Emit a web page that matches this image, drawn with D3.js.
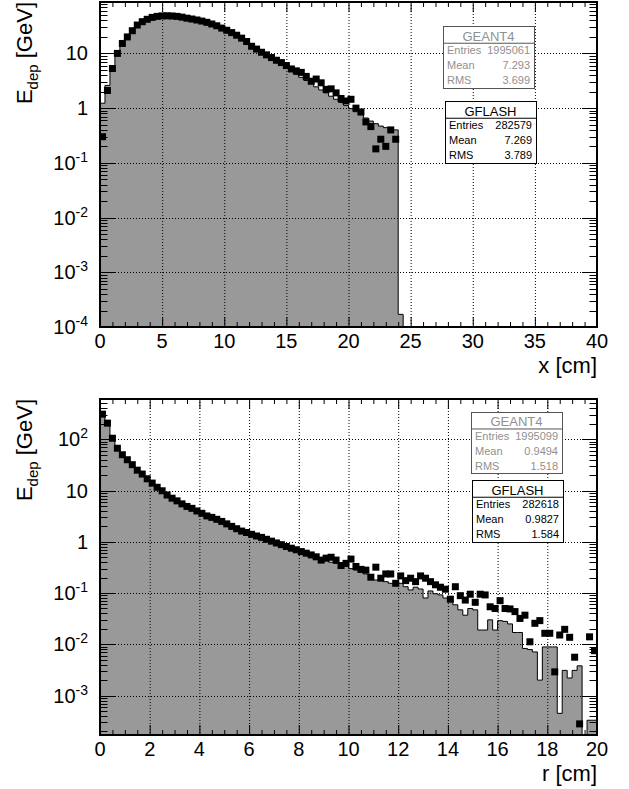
<!DOCTYPE html>
<html>
<head>
<meta charset="utf-8">
<script src="https://cdn.jsdelivr.net/npm/d3@7"></script>
<style>
  body { margin: 0; background: #fff; }
  svg { display: block; font-family: "Liberation Sans", Arial, sans-serif; }
</style>
</head>
<body>
<svg id="chart" width="629" height="789"></svg>
<script>
// longitudinal profile: 0.4 cm bins from 0 to 40 cm
const xBinWidth = 0.4;
const xGeant4 = [
  1.23, 2.6, 5.7, 9.8, 14.8, 19.5, 25, 31.5, 36.5, 40.5,
  44, 46, 47, 47.2, 46.8, 46, 44.8, 43.2, 41.5, 39.7,
  37.8, 35.8, 33.6, 31.2, 28.5, 26, 23.5, 21, 18.7, 16.3,
  14, 12.2, 10.7, 9.3, 8.1, 7.1, 6.2, 5.4, 4.7, 4.15,
  3.65, 3.2, 2.8, 2.45, 2.15, 1.9, 1.65, 1.45, 1.27, 1.12,
  0.98, 0.86, 0.76, 0.66, 0.58, 0.52, 0.47, 0.44, 0.42, 0.4,
  0.00017
];
const xGflash = [
  0.30, 2.1, 5.3, 10, 15.2, 20, 26, 33, 38, 42,
  45.5, 47.5, 48.5, 48.7, 48.3, 47.5, 46, 44, 42.5, 40.8,
  39, 37, 34.5, 32, 29, 26.5, 24, 21.5, 19, 16.5,
  13.5, 12, 10.5, 9.4, 8.4, 7.5, 6.8, 6.0, 5.2, 4.8,
  4.5, 3.8, 3.1, 3.4, 2.9, 2.2, 2.25, 1.9, 1.5, 1.35,
  1.45, 1.0, 0.85, 0.56, 0.46, 0.18, 0.27, 0.2, 0.4, 0.27
];
const xTicks = [0, 5, 10, 15, 20, 25, 30, 35, 40];
const xDecades = [1e-4, 1e-3, 1e-2, 1e-1, 1, 10];
const xStatsGeant4 = ["1995061", "7.293", "3.699"];
const xStatsGflash = ["282579", "7.269", "3.789"];

// radial profile: 0.2 cm bins from 0 to 20 cm
const rBinWidth = 0.2;
const rGeant4 = [
  295, 198, 100, 64, 48, 38, 30.5, 24, 20, 16.3,
  13.4, 11.1, 9.5, 7.9, 6.8, 6.0, 5.3, 4.7, 4.3, 3.85,
  3.45, 3.1, 2.85, 2.62, 2.4, 2.15, 1.92, 1.72, 1.55, 1.45,
  1.33, 1.23, 1.15, 1.06, 0.98, 0.91, 0.84, 0.78, 0.72, 0.68,
  0.62, 0.58, 0.53, 0.50, 0.46, 0.43, 0.40, 0.38, 0.345, 0.33,
  0.30, 0.28, 0.26, 0.236, 0.195, 0.18, 0.18, 0.167, 0.155, 0.145,
  0.155, 0.133, 0.115, 0.13, 0.12, 0.08, 0.11, 0.097, 0.092, 0.08,
  0.073, 0.059, 0.047, 0.037, 0.05, 0.047, 0.019, 0.019, 0.030, 0.019,
  0.029, 0.028, 0.025, 0.017, 0.017, 0.0083, 0.0079, 0.0071, 0.0020, 0.0089,
  0.0089, 0.0089, 0.00045, 0.0031, 0.0022, 0.0031, 0.0038, 0, 0.00033, 0.00033
];
const rGflash = [
  310, 207, 105, 67, 50, 40, 32, 25, 21, 17,
  14, 11.6, 9.9, 8.2, 7.1, 6.3, 5.5, 4.9, 4.5, 4.0,
  3.6, 3.2, 3.0, 2.75, 2.5, 2.24, 2.0, 1.8, 1.62, 1.52,
  1.4, 1.3, 1.22, 1.12, 1.03, 0.95, 0.88, 0.81, 0.75, 0.70,
  0.645, 0.60, 0.555, 0.51, 0.44, 0.48, 0.50, 0.44, 0.345, 0.38,
  0.46, 0.33, 0.29, 0.28, 0.204, 0.32, 0.195, 0.236, 0.236, 0.155,
  0.216, 0.175, 0.195, 0.167, 0.216, 0.195, 0.167, 0.145, 0.13, 0.119,
  0.076, 0.133, 0.089, 0.073, 0.095, 0.066, 0.095, 0.092, 0.054, 0.050,
  0.071, 0.050, 0.049, 0.0435, 0.032, 0.037, 0.0112, 0.0257, 0.029, 0.0164,
  0.0164, 0.0029, 0.0152, 0.0196, 0.0137, 0.0056, 0.00028, null, 0.014, 0.0075
];
const rTicks = [0, 2, 4, 6, 8, 10, 12, 14, 16, 18, 20];
const rDecades = [1e-3, 1e-2, 1e-1, 1, 10, 100];
const rStatsGeant4 = ["1995099", "0.9494", "1.518"];
const rStatsGflash = ["282618", "0.9827", "1.584"];

const statLabels = ["Entries", "Mean", "RMS"];

const svg = d3.select("#chart");

function decadeLabel(sel, v) {
    const e = Math.round(Math.log10(v));
    if (e === 0) { sel.text("1"); return; }
    if (e === 1) { sel.text("10"); return; }
    sel.append("tspan").text("10");
    sel.append("tspan").attr("dy", -8).attr("font-size", 14).text(e);
}

function drawPanel(p) {
    const g = svg.append("g");
    const x = d3.scaleLinear().domain(p.xDomain).range([p.left, p.right]);
    const y = d3.scaleLog().domain(p.yDomain).range([p.bottom, p.top]).clamp(true);
    const clipId = "clip-" + p.name;

    g.append("clipPath").attr("id", clipId)
        .append("rect")
        .attr("x", p.left).attr("y", p.top)
        .attr("width", p.right - p.left).attr("height", p.bottom - p.top);

    const plot = g.append("g").attr("clip-path", `url(#${clipId})`);

    // filled reference histogram (GEANT4)
    const steps = p.ref.map((v, i) => ({ x: i * p.binWidth, v: v }));
    steps.push({ x: p.ref.length * p.binWidth, v: p.ref[p.ref.length - 1] });
    const yv = d => y(Math.max(d.v || 0, p.yDomain[0] * 0.5));

    plot.append("path")
        .datum(steps)
        .attr("fill", "#999999")
        .attr("d", d3.area().curve(d3.curveStepAfter)
            .x(d => x(d.x)).y0(p.bottom).y1(yv));

    const outline = [{ x: 0, v: 0 }].concat(steps).concat([{ x: p.ref.length * p.binWidth, v: 0 }]);
    plot.append("path")
        .datum(outline)
        .attr("fill", "none")
        .attr("stroke", "#000")
        .attr("stroke-width", 1)
        .attr("d", d3.line().curve(d3.curveStepAfter).x(d => x(d.x)).y(yv));

    // grid
    const grid = g.append("g")
        .attr("stroke", "#000")
        .attr("stroke-width", 1)
        .attr("stroke-dasharray", "1,2");
    p.xTicks.slice(1, -1).forEach(t => {
        grid.append("line")
            .attr("x1", x(t) + 0.5).attr("x2", x(t) + 0.5)
            .attr("y1", p.top).attr("y2", p.bottom);
    });
    p.decades.forEach(t => {
        if (y(t) <= p.top + 1 || y(t) >= p.bottom - 1) return;
        grid.append("line")
            .attr("x1", p.left).attr("x2", p.right)
            .attr("y1", Math.round(y(t)) + 0.5).attr("y2", Math.round(y(t)) + 0.5);
    });

    // GFLASH markers
    plot.selectAll("rect.mk")
        .data(p.test.map((v, i) => ({ c: (i + 0.5) * p.binWidth, v: v }))
            .filter(d => d.v != null && d.v > 0))
        .enter().append("rect")
        .attr("class", "mk")
        .attr("x", d => x(d.c) - 3.5)
        .attr("y", d => y(d.v) - 3.5)
        .attr("width", 7).attr("height", 7)
        .attr("fill", "#000");

    // ticks on all four sides, pointing inward
    const ticks = g.append("g").attr("stroke", "#000").attr("stroke-width", 1);
    const minorX = d3.range(p.xDomain[0], p.xDomain[1] + 1e-9, p.xMinor);
    minorX.forEach(t => {
        const major = p.xTicks.some(m => Math.abs(m - t) < 1e-6);
        const len = major ? 10 : 5;
        const px = x(t) + 0.5;
        ticks.append("line").attr("x1", px).attr("x2", px).attr("y1", p.bottom).attr("y2", p.bottom - len);
        ticks.append("line").attr("x1", px).attr("x2", px).attr("y1", p.top).attr("y2", p.top + len);
    });
    const lo = Math.floor(Math.log10(p.yDomain[0]));
    const hi = Math.ceil(Math.log10(p.yDomain[1]));
    for (let e = lo; e <= hi; e++) {
        for (let k = 1; k <= 9; k++) {
            const v = k * Math.pow(10, e);
            if (v < p.yDomain[0] || v > p.yDomain[1]) continue;
            const len = k === 1 ? 15 : 7.5;
            const py = Math.round(y(v)) + 0.5;
            ticks.append("line").attr("x1", p.left).attr("x2", p.left + len).attr("y1", py).attr("y2", py);
            ticks.append("line").attr("x1", p.right).attr("x2", p.right - len).attr("y1", py).attr("y2", py);
        }
    }

    // frame
    g.append("rect")
        .attr("x", p.left).attr("y", p.top)
        .attr("width", p.right - p.left).attr("height", p.bottom - p.top)
        .attr("fill", "none").attr("stroke", "#000").attr("stroke-width", 2);

    // tick labels
    p.xTicks.forEach(t => {
        g.append("text")
            .attr("x", x(t)).attr("y", p.bottom + 21)
            .attr("text-anchor", "middle")
            .attr("font-size", 20)
            .text(t);
    });
    p.decades.forEach(t => {
        const tx = g.append("text")
            .attr("x", p.left - 12).attr("y", y(t) + 7)
            .attr("text-anchor", "end")
            .attr("font-size", 20);
        decadeLabel(tx, t);
    });

    // axis titles
    g.append("text")
        .attr("x", p.right).attr("y", p.bottom + 46)
        .attr("text-anchor", "end")
        .attr("font-size", 22)
        .text(p.xTitle);

    const yt = g.append("text")
        .attr("transform", `translate(32,${p.top}) rotate(-90)`)
        .attr("text-anchor", "end")
        .attr("font-size", 22);
    yt.append("tspan").text("E");
    yt.append("tspan").attr("font-size", 15).attr("dy", 6).text("dep");
    yt.append("tspan").attr("dy", -6).text(" [GeV]");

    statBox(g, p.box1, "GEANT4", p.statsRef, "#909090", "#555");
    statBox(g, p.box2, "GFLASH", p.statsTest, "#000", "#000");
}

function statBox(g, b, title, values, textColor, lineColor) {
    const box = g.append("g");
    box.append("rect")
        .attr("x", b.x + 0.5).attr("y", b.y + 0.5)
        .attr("width", b.w).attr("height", b.h)
        .attr("fill", "#fff").attr("stroke", lineColor).attr("stroke-width", 1);
    const head = b.h * 0.27;
    box.append("line")
        .attr("x1", b.x).attr("x2", b.x + b.w)
        .attr("y1", b.y + head + 0.5).attr("y2", b.y + head + 0.5)
        .attr("stroke", lineColor);
    box.append("text")
        .attr("x", b.x + b.w / 2).attr("y", b.y + head - 2)
        .attr("text-anchor", "middle")
        .attr("font-size", 13)
        .attr("fill", textColor)
        .text(title);
    const rowH = (b.h - head) / 3;
    statLabels.forEach((lab, i) => {
        const yy = b.y + head + rowH * (i + 0.5) + 4;
        box.append("text")
            .attr("x", b.x + 4).attr("y", yy)
            .attr("font-size", 11).attr("fill", textColor)
            .text(lab);
        box.append("text")
            .attr("x", b.x + b.w - 4).attr("y", yy)
            .attr("text-anchor", "end")
            .attr("font-size", 11).attr("fill", textColor)
            .text(values[i]);
    });
}

drawPanel({
    name: "x",
    left: 100, right: 597, top: 2, bottom: 327,
    xDomain: [0, 40], yDomain: [1e-4, 87],
    xTicks: xTicks, xMinor: 1, decades: xDecades,
    binWidth: xBinWidth, ref: xGeant4, test: xGflash,
    xTitle: "x [cm]",
    statsRef: xStatsGeant4, statsTest: xStatsGflash,
    box1: { x: 443, y: 26, w: 91, h: 62 },
    box2: { x: 445, y: 101, w: 91, h: 62 }
});

drawPanel({
    name: "r",
    left: 100, right: 597, top: 399, bottom: 735,
    xDomain: [0, 20], yDomain: [1.7e-4, 612],
    xTicks: rTicks, xMinor: 0.5, decades: rDecades,
    binWidth: rBinWidth, ref: rGeant4, test: rGflash,
    xTitle: "r [cm]",
    statsRef: rStatsGeant4, statsTest: rStatsGflash,
    box1: { x: 471, y: 412, w: 91, h: 61 },
    box2: { x: 472, y: 480, w: 91, h: 62 }
});
</script>
</body>
</html>
